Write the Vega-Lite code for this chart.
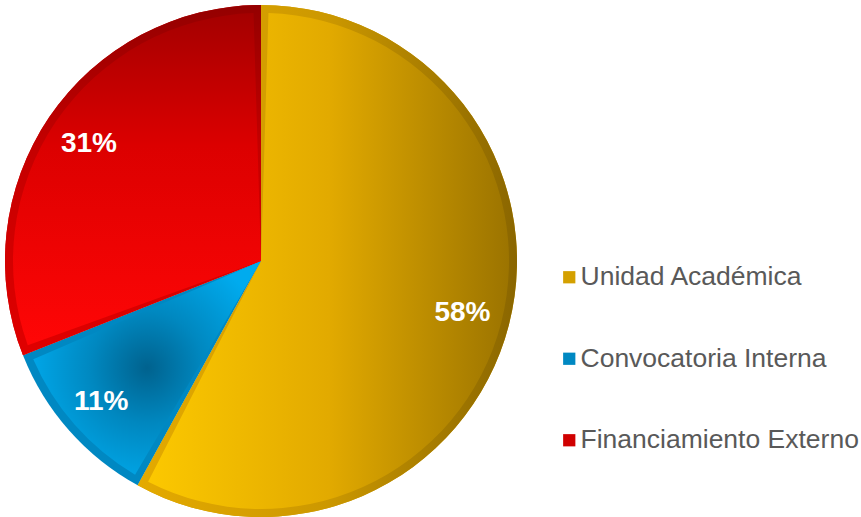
{
  "$schema": "https://vega.github.io/schema/vega-lite/v6.json",
  "width": 522,
  "height": 522,
  "padding": {"left": 0, "top": 0, "right": 339, "bottom": 0},
  "autosize": {"type": "none"},
  "background": "white",
  "view": {"stroke": null},
  "config": {"font": "Liberation Sans"},
  "data": {"values": [
    {"fuente": "Unidad Académica", "pct": 58, "orden": 1, "etiqueta": "58%"},
    {"fuente": "Convocatoria Interna", "pct": 11, "orden": 2, "etiqueta": "11%"},
    {"fuente": "Financiamiento Externo", "pct": 31, "orden": 3, "etiqueta": "31%"}
  ]},
  "transform": [
    {"stack": "pct", "groupby": [], "sort": [{"field": "orden"}], "as": ["t0", "t1"]}
  ],
  "layer": [
    {
      "mark": {"type": "arc", "outerRadius": 256},
      "encoding": {
        "theta": {"field": "t0", "type": "quantitative", "scale": {"domain": [0, 100]}},
        "theta2": {"field": "t1"},
        "color": {
          "field": "fuente", "type": "nominal",
          "scale": {
            "domain": ["Unidad Académica", "Convocatoria Interna", "Financiamiento Externo"],
            "range": ["#d4a000", "#0088c2", "#d00000"]
          },
          "legend": {
            "title": null,
            "orient": "none",
            "legendX": 556,
            "legendY": 264,
            "padding": 0,
            "symbolType": "square",
            "symbolSize": 150,
            "symbolStrokeWidth": 0,
            "labelFontSize": 26.5,
            "labelFont": "Liberation Sans",
            "labelColor": "#595959",
            "labelOffset": -2,
            "labelLimit": 400,
            "rowPadding": 54.5
          }
        }
      }
    },
    {
      "transform": [{"filter": "datum.orden == 1"}],
      "mark": {
        "type": "arc", "outerRadius": 256,
        "fill": {"gradient": "linear", "x1": 0, "y1": 0, "x2": 1, "y2": 0,
          "stops": [{"offset": 0, "color": "#e4aa00"}, {"offset": 0.5, "color": "#cc9800"}, {"offset": 1, "color": "#8a6600"}]}
      },
      "encoding": {
        "theta": {"field": "t0", "type": "quantitative"},
        "theta2": {"field": "t1"}
      }
    },
    {
      "transform": [{"filter": "datum.orden == 3"}],
      "mark": {
        "type": "arc", "outerRadius": 256,
        "fill": {"gradient": "linear", "x1": 0, "y1": 0, "x2": 0, "y2": 1,
          "stops": [{"offset": 0, "color": "#940000"}, {"offset": 0.4, "color": "#c40000"}, {"offset": 1, "color": "#e00000"}]}
      },
      "encoding": {
        "theta": {"field": "t0", "type": "quantitative"},
        "theta2": {"field": "t1"}
      }
    },
    {
      "transform": [{"filter": "datum.orden == 1"}],
      "mark": {
        "type": "arc", "outerRadius": 248, "padAngle": 0.06,
        "fill": {"gradient": "linear", "x1": 0, "y1": 0, "x2": 1, "y2": 0,
          "stops": [{"offset": 0, "color": "#fcc800"}, {"offset": 0.5, "color": "#e2aa00"}, {"offset": 1, "color": "#9c7400"}]}
      },
      "encoding": {
        "theta": {"field": "t0", "type": "quantitative"},
        "theta2": {"field": "t1"}
      }
    },
    {
      "transform": [{"filter": "datum.orden == 2"}],
      "mark": {
        "type": "arc", "outerRadius": 248, "padAngle": 0.06,
        "fill": {"gradient": "radial", "x1": 0.5, "y1": 0.5, "r1": 0, "x2": 0.5, "y2": 0.5, "r2": 0.55,
          "stops": [{"offset": 0, "color": "#00628e"}, {"offset": 0.45, "color": "#0088c0"}, {"offset": 1, "color": "#00abee"}]}
      },
      "encoding": {
        "theta": {"field": "t0", "type": "quantitative"},
        "theta2": {"field": "t1"}
      }
    },
    {
      "transform": [{"filter": "datum.orden == 3"}],
      "mark": {
        "type": "arc", "outerRadius": 248, "padAngle": 0.06,
        "fill": {"gradient": "linear", "x1": 0, "y1": 0, "x2": 0, "y2": 1,
          "stops": [{"offset": 0, "color": "#a40000"}, {"offset": 0.4, "color": "#dc0000"}, {"offset": 1, "color": "#ff0606"}]}
      },
      "encoding": {
        "theta": {"field": "t0", "type": "quantitative"},
        "theta2": {"field": "t1"}
      }
    },
    {
      "mark": {"type": "text", "radius": 208, "fontSize": 28, "fontWeight": "bold", "fill": "white", "font": "Liberation Sans"},
      "encoding": {
        "theta": {"field": "pct", "type": "quantitative", "stack": true},
        "order": {"field": "orden", "type": "quantitative"},
        "text": {"field": "etiqueta"},
        "opacity": {"condition": {"test": "datum.orden == 1", "value": 1}, "value": 0}
      }
    },
    {
      "mark": {"type": "text", "radius": 213, "fontSize": 28, "fontWeight": "bold", "fill": "white", "font": "Liberation Sans"},
      "encoding": {
        "theta": {"field": "pct", "type": "quantitative", "stack": true},
        "order": {"field": "orden", "type": "quantitative"},
        "text": {"field": "etiqueta"},
        "opacity": {"condition": {"test": "datum.orden == 2", "value": 1}, "value": 0}
      }
    },
    {
      "mark": {"type": "text", "radius": 208, "fontSize": 28, "fontWeight": "bold", "fill": "white", "font": "Liberation Sans"},
      "encoding": {
        "theta": {"field": "pct", "type": "quantitative", "stack": true},
        "order": {"field": "orden", "type": "quantitative"},
        "text": {"field": "etiqueta"},
        "opacity": {"condition": {"test": "datum.orden == 3", "value": 1}, "value": 0}
      }
    }
  ]
}
